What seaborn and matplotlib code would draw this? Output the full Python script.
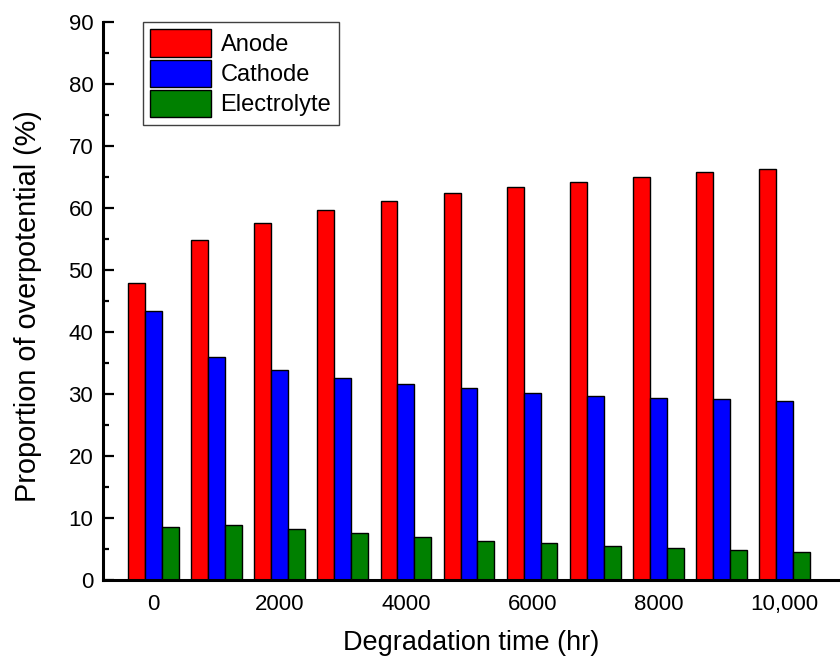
import numpy as np
import pandas as pd
import matplotlib
matplotlib.use("Agg")
import matplotlib.pyplot as plt
import seaborn as sns

# ---- data ----
times = [0, 1000, 2000, 3000, 4000, 5000, 6000, 7000, 8000, 9000, 10000]
anode = [47.9, 54.8, 57.6, 59.6, 61.1, 62.4, 63.3, 64.2, 65.0, 65.7, 66.3]
cathode = [43.3, 35.9, 33.9, 32.5, 31.6, 30.9, 30.2, 29.7, 29.4, 29.1, 28.9]
electrolyte = [8.5, 8.9, 8.2, 7.5, 7.0, 6.3, 6.0, 5.5, 5.1, 4.8, 4.5]
series_names = ["Anode", "Cathode", "Electrolyte"]
series_colors = ["#FF0000", "#0000FF", "#008000"]
xtick_labels = ["0", "2000", "4000", "6000", "8000", "10,000"]

rows = []
for name, vals in zip(series_names, [anode, cathode, electrolyte]):
    for t, v in zip(times, vals):
        rows.append({"time": str(t), "value": v, "component": name})
df = pd.DataFrame(rows)

sns.set_style("ticks")
plt.rcParams["font.family"] = ["Liberation Sans", "DejaVu Sans"]
plt.rcParams["text.color"] = "black"
plt.rcParams["axes.labelcolor"] = "black"
plt.rcParams["axes.edgecolor"] = "black"
plt.rcParams["xtick.color"] = "black"
plt.rcParams["ytick.color"] = "black"

fig = plt.figure(figsize=(8.4, 6.62), dpi=100)
ax = fig.add_axes([103 / 840, 82 / 662, 1 - 103 / 840, (580 - 21.7) / 662])

sns.barplot(data=df, x="time", y="value", hue="component",
            order=[str(t) for t in times], hue_order=series_names,
            palette=series_colors, saturation=1, edgecolor="black", linewidth=1.0,
            width=0.8, errorbar=None, ax=ax, zorder=2)

ax.set_xlim(-0.796, 10.875)
ax.set_ylim(0, 90)

ax.set_xticks(range(0, 11, 2))
ax.set_xticklabels(xtick_labels)
ax.set_xticks(range(1, 11, 2), minor=True)
ax.set_yticks(range(0, 91, 10))
ax.set_yticks(range(5, 90, 10), minor=True)

for side in ["top", "right"]:
    ax.spines[side].set_visible(False)
for side in ["left", "bottom"]:
    ax.spines[side].set_linewidth(2.2)
    ax.spines[side].set_color("black")
    ax.spines[side].set_zorder(5)

ax.tick_params(axis="both", which="major", direction="in", length=8, width=1.6,
               labelsize=16, colors="black")
ax.tick_params(axis="y", which="minor", direction="in", length=4.5, width=1.6, colors="black")
ax.tick_params(axis="x", which="minor", direction="in", length=3, width=1.6, colors="black")
ax.tick_params(axis="x", which="major", pad=10)
ax.tick_params(axis="y", which="major", pad=7)
for t in ax.xaxis.get_major_ticks() + ax.xaxis.get_minor_ticks():
    t.tick1line.set_zorder(6)

ax.set_xlabel("Degradation time (hr)", fontsize=19.5, labelpad=11)
ax.set_ylabel("Proportion of overpotential (%)", fontsize=20.8)
ax.yaxis.set_label_coords(-0.083, 0.491)

leg = ax.legend(loc="upper left", bbox_to_anchor=(0.054, 1.0), borderaxespad=0,
                fontsize=17, handlelength=2.57, handleheight=1.4, labelspacing=0.13,
                handletextpad=0.4, borderpad=0.32, fancybox=False, framealpha=1,
                edgecolor="#404040", title=None)
leg.get_frame().set_linewidth(1.0)

fig.savefig("out.png", dpi=100)
